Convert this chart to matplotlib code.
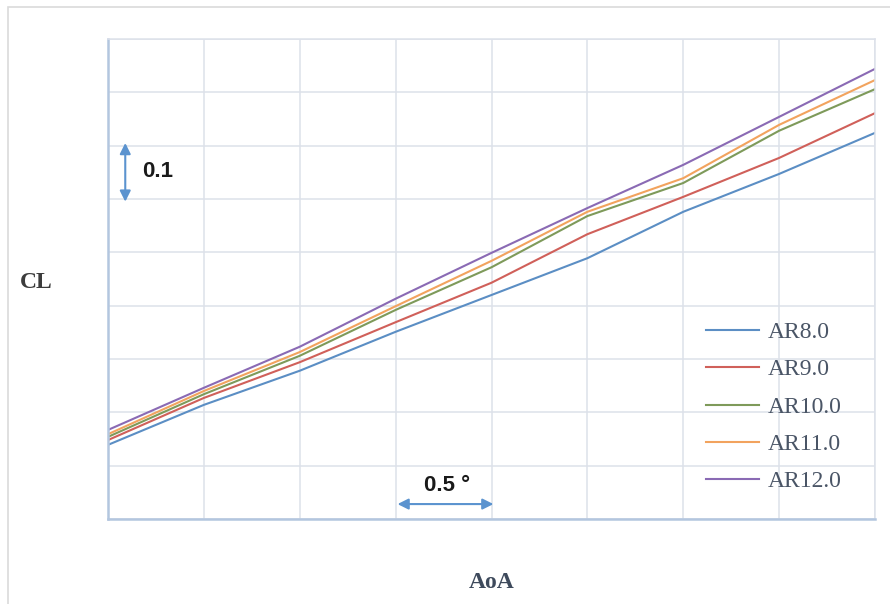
"""
CL vs AoA for different aspect ratios
- one line per aspect ratio
- grid of 0.5 deg x 0.1 CL, no tick labels
"""

import matplotlib
matplotlib.use("Agg")
import matplotlib.pyplot as plt
from matplotlib.patches import Rectangle

# Data (AoA in deg from the left edge, CL from the bottom edge)
aoa = [0.0, 0.5, 1.0, 1.5, 2.0, 2.5, 3.0, 3.5, 4.0]

cl_ar8 = [0.139, 0.214, 0.278, 0.351, 0.420, 0.489, 0.576, 0.647, 0.724]
cl_ar9 = [0.148, 0.227, 0.294, 0.369, 0.443, 0.534, 0.604, 0.677, 0.761]
cl_ar10 = [0.154, 0.234, 0.306, 0.392, 0.472, 0.568, 0.630, 0.728, 0.806]
cl_ar11 = [0.159, 0.240, 0.313, 0.399, 0.484, 0.576, 0.639, 0.739, 0.823]
cl_ar12 = [0.167, 0.246, 0.323, 0.413, 0.499, 0.583, 0.664, 0.754, 0.844]

labels = ['AR8.0', 'AR9.0', 'AR10.0', 'AR11.0', 'AR12.0']
colors = ['#5B8EC4', '#D0605A', '#7E9A5A', '#F2A35E', '#8A6AB4']

x_ticks = [0.0, 0.5, 1.0, 1.5, 2.0, 2.5, 3.0, 3.5, 4.0]
y_ticks = [0.0, 0.1, 0.2, 0.3, 0.4, 0.5, 0.6, 0.7, 0.8, 0.9]

W, H = 890, 604


def plot_chart():
    """Draw the CL curves"""
    fig = plt.figure(figsize=(W / 100, H / 100), dpi=100)
    ax = fig.add_axes([108 / W, 1 - 519 / H, (875 - 108) / W, (519 - 39) / H])

    # Outer chart frame (runs off the right and bottom of the picture)
    fig.add_artist(Rectangle((8 / W, -0.1), 1.2, 1 - 7 / H + 0.1,
                             transform=fig.transFigure, fill=False,
                             edgecolor='#DADADA', linewidth=1.2))

    series = [cl_ar8, cl_ar9, cl_ar10, cl_ar11, cl_ar12]
    for cl, label, color in zip(series, labels, colors):
        ax.plot(aoa, cl, color=color, linewidth=1.5, label=label)

    ax.set_xlim(x_ticks[0], x_ticks[-1])
    ax.set_ylim(y_ticks[0], y_ticks[-1])
    ax.set_xticks(x_ticks)
    ax.set_yticks(y_ticks)
    ax.set_xticklabels([])
    ax.set_yticklabels([])
    ax.tick_params(length=0)
    ax.grid(True, color='#DDE1EA', linewidth=1.1)
    ax.set_axisbelow(True)

    for side in ['top', 'right']:
        ax.spines[side].set_color('#DDE1EA')
        ax.spines[side].set_linewidth(1.1)
    for side in ['left', 'bottom']:
        ax.spines[side].set_color('#B3C6DF')
        ax.spines[side].set_linewidth(1.8)

    # Scale markers
    arrow_color = '#5B93CF'
    ax.annotate('', xy=(0.09, 0.705), xytext=(0.09, 0.595),
                arrowprops=dict(arrowstyle='<|-|>', color=arrow_color, lw=1.5,
                                mutation_scale=16, shrinkA=0, shrinkB=0))
    ax.text(0.18, 0.651, '0.1', fontsize=16, fontweight='bold',
            family='Liberation Sans', color='#1A1A1A', va='center', ha='left')

    ax.annotate('', xy=(1.51, 0.028), xytext=(2.01, 0.028),
                arrowprops=dict(arrowstyle='<|-|>', color=arrow_color, lw=1.5,
                                mutation_scale=16, shrinkA=0, shrinkB=0))
    ax.text(1.65, 0.063, '0.5 °', fontsize=16, fontweight='bold',
            family='Liberation Sans', color='#1A1A1A', va='center', ha='left')

    # Legend inside the plot area
    ax.legend(loc='center left', bbox_to_anchor=((706 - 108) / 767, (519 - 407) / 480),
              frameon=False, borderpad=0, borderaxespad=0,
              handlelength=2.25, handletextpad=0.38, labelspacing=0.67,
              prop={'family': 'Liberation Serif', 'size': 17},
              labelcolor='#4A5566')

    # Axis titles
    fig.text(36 / W, 1 - 283 / H, 'CL', fontsize=17, fontweight='bold',
             family='Liberation Serif', color='#3C3C3C', ha='center', va='center')
    fig.text(492 / W, 1 - 583 / H, 'AoA', fontsize=17, fontweight='bold',
             family='Liberation Serif', color='#3E4A5C', ha='center', va='center')

    fig.savefig('out.png', dpi=100)
    print("Saved: out.png")
    plt.close(fig)


def main():
    plot_chart()


if __name__ == "__main__":
    main()
